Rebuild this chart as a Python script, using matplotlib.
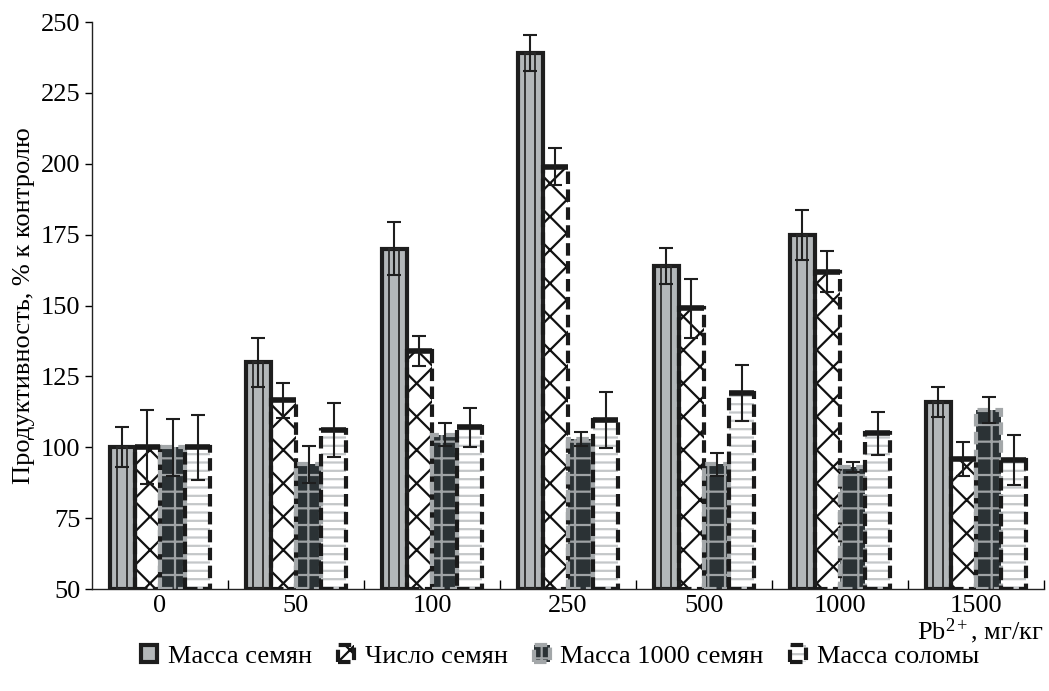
import numpy as np
import matplotlib
matplotlib.use("Agg")
import matplotlib.pyplot as plt
from matplotlib.legend_handler import HandlerTuple

plt.rcParams["font.family"] = ["Liberation Serif", "DejaVu Serif"]
plt.rcParams["mathtext.fontset"] = "custom"
plt.rcParams["mathtext.rm"] = "Liberation Serif"
plt.rcParams["mathtext.it"] = "Liberation Serif:italic"
plt.rcParams["hatch.linewidth"] = 1.6

doses = ["0", "50", "100", "250", "500", "1000", "1500"]
series_names = ["Масса семян", "Число семян", "Масса 1000 семян", "Масса соломы"]

seed_mass = [100, 130, 170, 239, 164, 175, 116]
seed_count = [100, 116.5, 134, 199, 149, 162, 96]
mass_1000 = [100, 94, 104.5, 103, 94, 93, 113]
straw_mass = [100, 106, 107, 109.5, 119, 105, 95.5]

seed_mass_err = [7, 8.7, 9.4, 6.3, 6.4, 8.8, 5.4]
seed_count_err = [13, 6, 5.3, 6.6, 10.5, 7.4, 6]
mass_1000_err = [10, 6.5, 4, 2.4, 4, 1.9, 4.6]
straw_mass_err = [11.5, 9.5, 6.9, 9.9, 9.9, 7.6, 8.8]

values = [seed_mass, seed_count, mass_1000, straw_mass]
errors = [seed_mass_err, seed_count_err, mass_1000_err, straw_mass_err]

base = 50
x = np.arange(len(doses))
bw = 0.185
offsets = (np.arange(4) - 1.5) * bw
fs = 19

fig = plt.figure(figsize=(10.49, 6.91), dpi=100)
ax = fig.add_axes([0.0877, 0.1476, 0.9075, 0.8205])

dash = (0, (3, 1.3))
# (face, hatch colour, hatch, frame colour, frame style)
styles = [
    ("#b3b7b9", None, None, "#1e1e1e", "solid"),
    ("white", "#111111", "x", "#1a1a1a", dash),
    ("#2b3235", "#9fa3a5", "+", "#a3a7a9", dash),
    ("white", "#c4c7c9", "--", "#1a1a1a", dash),
]

handles = []
for i, (vals, errs) in enumerate(zip(values, errors)):
    face, hcol, hatch, ecol, ls = styles[i]
    xs = x + offsets[i]
    heights = np.array(vals) - base
    if hatch is None:
        fill = ax.bar(xs, heights, bw, bottom=base, color=face, linewidth=0, zorder=2)
        frame = ax.bar(xs, heights, bw, bottom=base, fill=False,
                       edgecolor=ecol, linewidth=3, zorder=3)
        # inner stripes of the seed-mass bars
        ax.bar(xs, heights, bw * 0.38, bottom=base, fill=False,
               edgecolor="#2a2a2a", linewidth=1.3, zorder=3)
    else:
        fill = ax.bar(xs, heights, bw, bottom=base, color=face, edgecolor=hcol,
                      linewidth=0, hatch=hatch, zorder=2)
        frame = ax.bar(xs, heights, bw, bottom=base, fill=False,
                       edgecolor=ecol, linewidth=3, linestyle=ls, zorder=3)
    if i in (1, 3):
        ax.hlines(vals, xs - bw / 2, xs + bw / 2, color="#1a1a1a", lw=4, zorder=4)
    ax.errorbar(xs, vals, yerr=errs, fmt="none", ecolor="#1e1e1e", elinewidth=1.5,
                capsize=4.8, capthick=1.5, zorder=5)
    handles.append((fill, frame))

ax.set_xlim(-0.5, len(doses) - 0.5)
ax.set_ylim(50, 250)
ax.set_yticks(np.arange(50, 251, 25))
ax.set_xticks(x)
ax.set_xticklabels(doses)
ax.set_xticks(np.arange(len(doses)) + 0.5, minor=True)
ax.tick_params(axis="x", which="major", length=0, labelsize=fs, pad=4)
ax.tick_params(axis="x", which="minor", direction="in", length=6.5, width=1)
ax.tick_params(axis="y", direction="out", length=5, width=1, labelsize=fs)

for side in ("top", "right"):
    ax.spines[side].set_visible(False)
for side in ("left", "bottom"):
    ax.spines[side].set_linewidth(1)
    ax.spines[side].set_color("#222222")

ax.set_ylabel("Продуктивность, % к контролю", fontsize=fs, labelpad=4)
fig.text(0.995, 0.087, "Pb$^{2+}$, мг/кг", ha="right", va="center", fontsize=fs)

fig.legend(handles, series_names, loc="center", bbox_to_anchor=(0.534, 0.05),
           ncol=4, frameon=False, fontsize=fs, handlelength=0.6, handleheight=0.6,
           handletextpad=0.4, columnspacing=1.0,
           handler_map={tuple: HandlerTuple(ndivide=1, pad=0)})

fig.savefig("out.png", dpi=100)
